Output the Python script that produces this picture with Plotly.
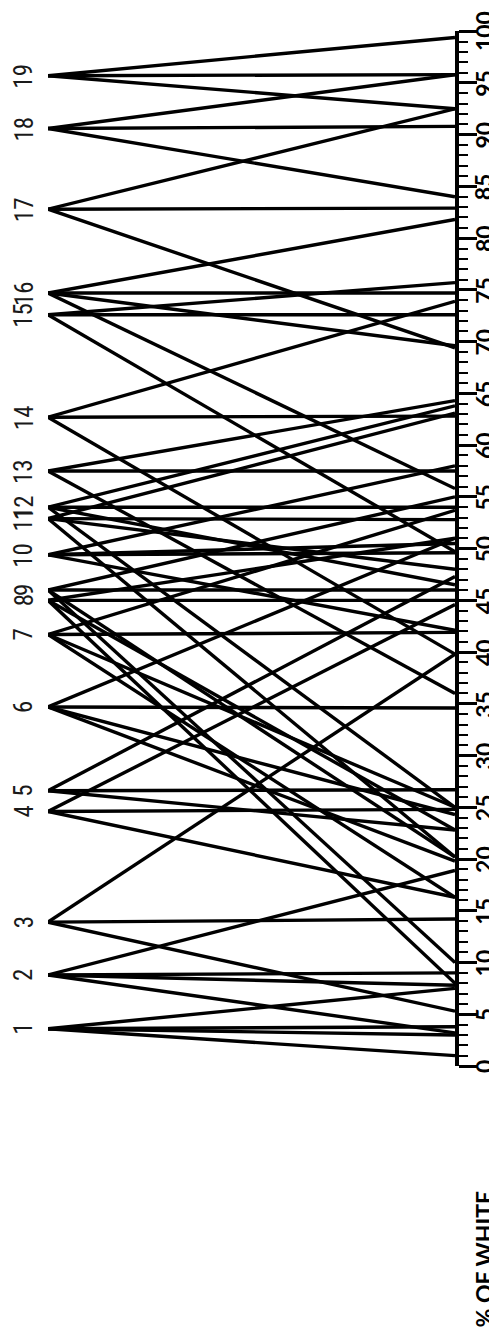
import plotly.graph_objects as go

# Sample numbers and their own "% of white" (left column vertices)
sample_labels = ["1", "2", "3", "4", "5", "6", "7", "8", "9", "10",
                 "11", "12", "13", "14", "15", "16", "17", "18", "19"]
sample_values = [3.6, 8.8, 13.9, 24.6, 26.6, 34.7, 41.7, 45.0, 46.0, 49.4,
                 52.9, 54.0, 57.5, 62.7, 72.6, 74.7, 82.8, 90.6, 95.7]

# Where each sample's lines meet the "% of white" scale
ends_01 = [7.5, 3.8, 3.0, 1.0]
ends_02 = [18.9, 9.0, 7.8, 3.2]
ends_03 = [39.8, 14.2, 5.3]
ends_04 = [44.6, 24.8, 16.3]
ends_05 = [47.3, 26.7, 22.8]
ends_06 = [51.0, 34.6, 24.3, 19.8]
ends_07 = [53.7, 41.9, 25.0, 16.3]
ends_08 = [51.0, 45.0, 22.8, 8.0]
ends_09 = [55.0, 46.0, 20.2, 10.0]
ends_10 = [58.0, 49.6, 50.5, 42.1]
ends_11 = [63.1, 52.8, 48.0, 20.2]
ends_12 = [63.8, 54.0, 46.5, 25.0]
ends_13 = [64.3, 57.5, 36.0]
ends_14 = [73.9, 62.8, 39.8]
ends_15 = [75.7, 72.6, 49.7]
ends_16 = [81.8, 74.7, 69.6, 55.8]
ends_17 = [92.5, 82.9, 69.4]
ends_18 = [95.8, 90.8, 84.0]
ends_19 = [99.4, 95.8, 92.5]

all_ends = [ends_01, ends_02, ends_03, ends_04, ends_05, ends_06, ends_07,
            ends_08, ends_09, ends_10, ends_11, ends_12, ends_13, ends_14,
            ends_15, ends_16, ends_17, ends_18, ends_19]

tick_values = list(range(0, 101, 5))
tick_text = [str(v) for v in tick_values]
axis_title = "% OF WHITE"

xs, ys = [], []
for v0, ends in zip(sample_values, all_ends):
    for e in ends:
        xs += [0, 1, None]
        ys += [v0, e, None]

fig = go.Figure()
fig.add_trace(go.Scatter(x=xs, y=ys, mode="lines",
                         line=dict(color="black", width=3.4),
                         hoverinfo="skip", showlegend=False, cliponaxis=False))

label_font = "'Liberation Sans Narrow', 'Roboto Condensed', Lato, sans-serif"
tick_font = "Lato, 'Open Sans', sans-serif"

for lab, v in zip(sample_labels, sample_values):
    fig.add_annotation(x=-0.059, y=v, xref="paper", yref="y", text=lab,
                       showarrow=False, textangle=-90,
                       font=dict(family=label_font, size=25, color="#1a1a1a"),
                       xanchor="center", yanchor="middle")

for tv, tt in zip(tick_values, tick_text):
    fig.add_annotation(x=1.071, y=tv, xref="paper", yref="y",
                       text="<b>" + tt + "</b>",
                       showarrow=False, textangle=-90,
                       font=dict(family=tick_font, size=23, color="black"),
                       xanchor="center", yanchor="middle")

fig.add_annotation(x=1.071, y=-0.186, xref="paper", yref="paper",
                   text="<b>" + axis_title + "</b>", showarrow=False,
                   textangle=-90,
                   font=dict(family=tick_font, size=23, color="black"),
                   xanchor="center", yanchor="middle")

fig.update_xaxes(range=[0, 1], visible=False, fixedrange=True)
fig.update_yaxes(range=[0, 100.02], side="right", showgrid=False, zeroline=False,
                 automargin=False, showticklabels=False,
                 showline=True, linecolor="black", linewidth=4,
                 tickmode="array", tickvals=tick_values,
                 ticks="outside", ticklen=18, tickwidth=3, tickcolor="black",
                 minor=dict(dtick=1, tick0=0, ticks="outside", ticklen=9,
                            tickwidth=2, tickcolor="black"))

fig.update_layout(width=497, height=1340,
                  margin=dict(l=40, r=50, t=23, b=282, autoexpand=False),
                  plot_bgcolor="white", paper_bgcolor="white")

fig.write_html("out.html")
